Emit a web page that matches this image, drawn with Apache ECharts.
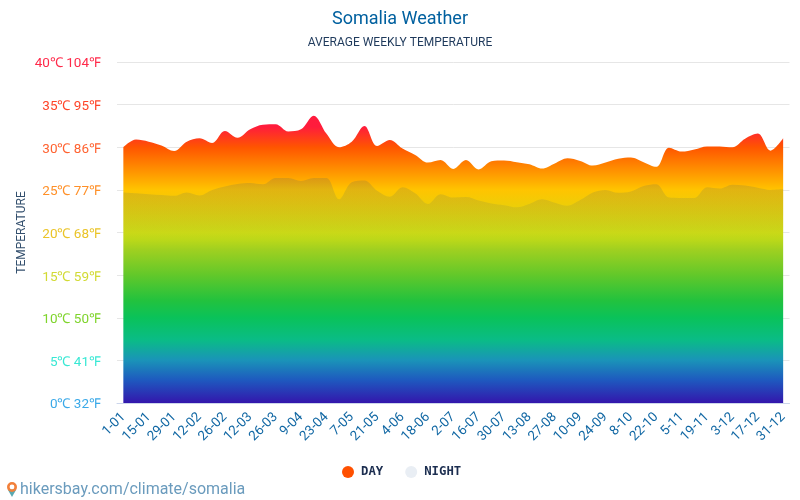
<!DOCTYPE html>
<html>
<head>
<meta charset="utf-8">
<title>Somalia Weather</title>
<script src="https://cdn.jsdelivr.net/npm/echarts@6/dist/echarts.min.js"></script>
<style>
  html, body { margin: 0; padding: 0; background: #fff; }
  #main { width: 800px; height: 500px; }
</style>
</head>
<body>
<div id="main"></div>
<script>
var weeks = ['1-01','8-01','15-01','22-01','29-01','5-02','12-02','19-02','26-02','5-03','12-03','19-03','26-03','2-04','9-04','16-04','23-04','30-04','7-05','14-05','21-05','28-05','4-06','11-06','18-06','25-06','2-07','9-07','16-07','23-07','30-07','6-08','13-08','20-08','27-08','3-09','10-09','17-09','24-09','1-10','8-10','15-10','22-10','29-10','5-11','12-11','19-11','26-11','3-12','10-12','17-12','24-12','31-12'];
var dayTemps = [30.0,30.9,30.65,30.2,29.55,30.65,31.05,30.5,31.9,31.1,32.1,32.65,32.7,31.85,32.1,33.7,31.6,30.0,30.65,32.5,30.15,30.85,29.85,29.1,28.2,28.5,27.45,28.5,27.4,28.35,28.45,28.25,28.0,27.5,28.1,28.7,28.4,27.85,28.2,28.65,28.8,28.25,27.7,29.95,29.5,29.75,30.1,30.1,30.0,31.0,31.6,29.6,31.05];
var nightTemps = [24.7,24.6,24.5,24.4,24.3,24.7,24.35,25.0,25.4,25.7,25.8,25.65,26.4,26.4,26.05,26.4,26.4,23.9,25.9,26.1,24.9,24.2,25.3,24.6,23.35,24.5,24.1,24.15,23.75,23.4,23.2,22.95,23.35,23.9,23.5,23.15,23.8,24.7,25.0,24.65,24.8,25.45,25.65,24.1,24.05,24.05,25.3,25.15,25.6,25.5,25.25,25.0,25.1];
var tickColors = { 0: '#3aa9e8', 5: '#38e8d4', 10: '#7fd42c', 15: '#d2da34', 20: '#eac428', 25: '#ff9028', 30: '#ff6230', 35: '#ff4428', 40: '#ff2a4a' };

var gridTop = 62, gridBottom = 97;
var myChart = echarts.init(document.getElementById('main'));

// same colour ramp as the axis labels, fixed to the plot area
var dayFill = {
  type: 'linear', global: true,
  x: 0, y: gridTop, x2: 0, y2: 500 - gridBottom,
  colorStops: [
    { offset: 0, color: '#ff1744' },
    { offset: 0.19, color: '#ff1c3c' },
    { offset: 0.25, color: '#ff5500' },
    { offset: 0.375, color: '#ffc400' },
    { offset: 0.5, color: '#d0de14' },
    { offset: 0.55, color: '#a0d020' },
    { offset: 0.625, color: '#62c82a' },
    { offset: 0.7, color: '#22c23e' },
    { offset: 0.75, color: '#0ac25a' },
    { offset: 0.815, color: '#0abc86' },
    { offset: 0.874, color: '#1a94b8' },
    { offset: 0.932, color: '#1e5abf' },
    { offset: 1, color: '#3316ac' }
  ]
};
var nightFill = {
  type: 'linear', global: true,
  x: 0, y: 178, x2: 0, y2: 240,
  colorStops: [
    { offset: 0, color: 'rgba(80,100,100,0.2)' },
    { offset: 0.8, color: 'rgba(80,110,100,0.08)' },
    { offset: 1, color: 'rgba(80,110,100,0)' }
  ]
};

var option = {
  animation: false,
  textStyle: { fontFamily: 'Roboto' },
  title: {
    text: 'Somalia Weather',
    subtext: 'AVERAGE WEEKLY TEMPERATURE',
    left: 'center', top: 5,
    itemGap: 9,
    textStyle: { color: '#00609f', fontSize: 18, fontWeight: 'normal', fontFamily: 'Roboto' },
    subtextStyle: { color: '#1f3a5c', fontSize: 12, fontFamily: 'Roboto' }
  },
  grid: { left: 117, right: 10.5, top: gridTop, bottom: gridBottom },
  legend: {
    top: 466, left: 342,
    padding: 0,
    icon: 'circle',
    itemWidth: 12, itemHeight: 12, itemGap: 22,
    textStyle: { color: '#1c2e50', fontSize: 12.3, fontWeight: 'bold', fontFamily: 'DejaVu Sans Mono', padding: [0, 0, 0, 2] },
    data: [
      { name: 'DAY', itemStyle: { color: '#ff5000' } },
      { name: 'NIGHT', itemStyle: { color: '#e9eef4' } }
    ]
  },
  xAxis: {
    type: 'category',
    data: weeks,
    boundaryGap: true,
    axisLine: { lineStyle: { color: '#ccd6eb' } },
    axisTick: { alignWithLabel: true, interval: 1, length: 10, lineStyle: { color: '#ccd6eb' } },
    axisLabel: { interval: 1, rotate: 45, margin: 12, color: '#1268a4', fontSize: 13.4, hideOverlap: false }
  },
  yAxis: {
    type: 'value',
    min: 0, max: 40, interval: 5,
    name: 'TEMPERATURE',
    nameLocation: 'middle',
    nameGap: 89,
    nameMoveOverlap: false,
    nameTextStyle: { color: '#34506e', fontSize: 12 },
    splitLine: { lineStyle: { color: '#e6e6e6' } },
    axisLine: { show: false },
    axisTick: { show: false },
    axisLabel: {
      margin: 16, fontSize: 13.5, verticalAlign: 'top', lineHeight: 4,
      formatter: function (v) { return v + '℃ ' + Math.round(v * 9 / 5 + 32) + '℉'; },
      color: function (v) { return tickColors[v]; }
    }
  },
  graphic: [
    { type: 'text', left: 20, top: 482, style: { text: 'hikersbay.com/climate/somalia', fill: '#6a9bbd', fontSize: 16, fontFamily: 'Roboto' } },
    // map pin next to the link
    { type: 'polygon', shape: { points: [[7.7, 489.5], [16.3, 489.5], [12, 497]] }, style: { fill: '#5aa9b0' } },
    { type: 'ring', shape: { cx: 12, cy: 487, r: 5, r0: 2.4 }, style: { fill: '#f2803a' } }
  ],
  series: [
    {
      name: 'DAY', type: 'line', data: dayTemps, smooth: 0.35,
      showSymbol: false, lineStyle: { width: 0 }, itemStyle: { color: '#ff5000' },
      areaStyle: { color: dayFill, opacity: 1 }, z: 2
    },
    {
      name: 'NIGHT', type: 'line', data: nightTemps, smooth: 0.35,
      showSymbol: false, lineStyle: { width: 0 }, itemStyle: { color: '#e9eef4' },
      areaStyle: { color: nightFill, opacity: 1 }, z: 3
    }
  ]
};
myChart.setOption(option);
</script>
</body>
</html>
